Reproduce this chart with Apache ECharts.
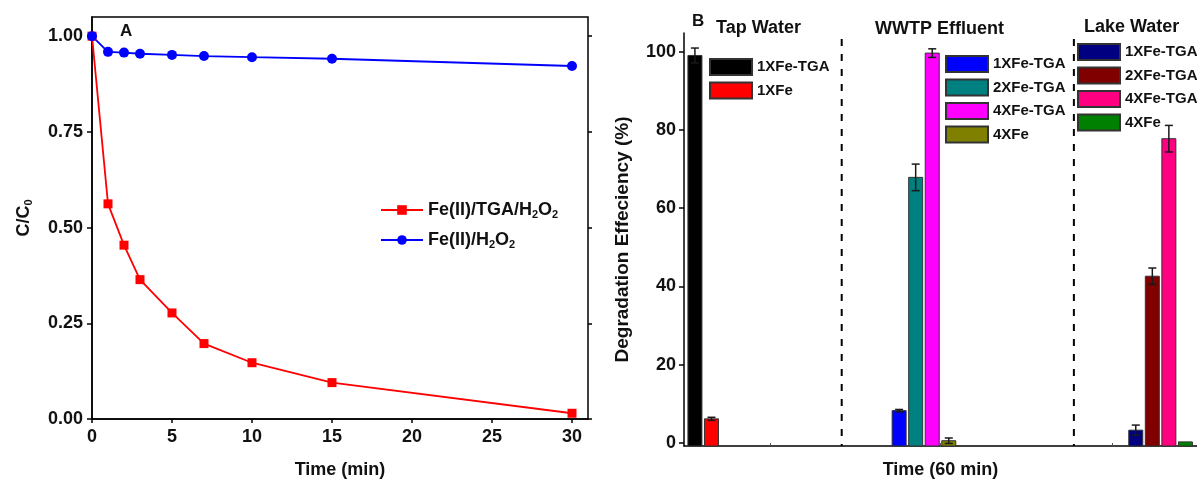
<!DOCTYPE html>
<html>
<head>
<meta charset="utf-8">
<script src="https://cdn.jsdelivr.net/npm/echarts@6/dist/echarts.min.js"></script>
<style>
  html, body { margin: 0; padding: 0; background: #fff; }
  #chart { width: 1197px; height: 484px; }
</style>
</head>
<body>
<div id="chart"></div>
<script>
// ---- panel A : C/C0 against time ----
const times = [0, 1, 2, 3, 5, 7, 10, 15, 30];
const tgaRatio = [1.0, 0.562, 0.454, 0.364, 0.277, 0.197, 0.147, 0.095, 0.015];
const plainRatio = [1.0, 0.959, 0.957, 0.954, 0.951, 0.948, 0.945, 0.941, 0.922];
const ratioTicks = [0, 0.25, 0.5, 0.75, 1.0];
const timeTicks = [0, 5, 10, 15, 20, 25, 30];
const lineNames = ['Fe(II)/TGA/H2O2', 'Fe(II)/H2O2'];

// ---- panel B : degradation efficiency after 60 min ----
const groupTitles = ['Tap Water', 'WWTP Effluent', 'Lake Water'];
const tapNames = ['1XFe-TGA', '1XFe'];
const tapValues = [99.1, 6.1];
const tapErrors = [1.9, 0.4];
const wwtpNames = ['1XFe-TGA', '2XFe-TGA', '4XFe-TGA', '4XFe'];
const wwtpValues = [8.2, 67.9, 99.7, 0.5];
const wwtpErrors = [0.3, 3.4, 1.1, 0.7];
const lakeNames = ['1XFe-TGA', '2XFe-TGA', '4XFe-TGA', '4XFe'];
const lakeValues = [3.2, 42.6, 77.8, 0.2];
const lakeErrors = [1.3, 2.1, 3.4, 0];
const effTicks = [0, 20, 40, 60, 80, 100];

const FONT = '"Liberation Sans", Arial, sans-serif';
const bold = (size) => ({ fontFamily: FONT, fontWeight: 'bold', fontSize: size, color: '#111' });
const sub = { fontFamily: FONT, fontWeight: 'bold', fontSize: 11, color: '#111', padding: [9, 0, 0, 0] };

// bar layout: x axis counted in bar slots; the value axis starts a bit below 0
// and the bars stand on the axis line, as in the original figure
const effMin = -0.85;
const groups = [
  { key: 'tap', names: tapNames, values: tapValues, errors: tapErrors, start: 0.66,
    colors: ['#000000', '#ff0000'], legendLeft: 709, legendTop: 58 },
  { key: 'wwtp', names: wwtpNames, values: wwtpValues, errors: wwtpErrors, start: 13.0,
    colors: ['#0000ff', '#008080', '#ff00ff', '#808000'], legendLeft: 945, legendTop: 55 },
  { key: 'lake', names: lakeNames, values: lakeValues, errors: lakeErrors, start: 27.3,
    colors: ['#000080', '#800000', '#ff0080', '#008000'], legendLeft: 1077, legendTop: 43 }
];
const separators = [9.53, 23.56];
const slotTicks = [5.2, 15.5, 25.85];

const legendSeries = [];
const barData = [];
const errData = [];
const legends = [];
groups.forEach((g, gi) => {
  g.names.forEach((n, i) => {
    const x = g.start + i;
    // empty series only feed the legends
    legendSeries.push({
      type: 'bar',
      name: g.key + ':' + n,
      xAxisIndex: 1,
      yAxisIndex: 2,
      itemStyle: { color: g.colors[i], borderColor: '#333', borderWidth: 1 },
      data: []
    });
    barData.push([x, g.values[i], gi, i]);
    if (g.errors[i] > 0) errData.push([x, g.values[i] - g.errors[i], g.values[i] + g.errors[i]]);
  });
  legends.push({
    orient: 'vertical',
    left: g.legendLeft,
    top: g.legendTop,
    padding: 0,
    itemWidth: 42,
    itemHeight: 16,
    itemGap: 5.5,
    icon: 'rect',
    selectedMode: false,
    data: g.names.map((n) => g.key + ':' + n),
    formatter: (name) => name.split(':')[1],
    textStyle: bold(15)
  });
});

const separatorSeries = separators.map((s) => ({
  type: 'line',
  xAxisIndex: 1, yAxisIndex: 2,
  symbol: 'none',
  silent: true,
  lineStyle: { color: '#000', width: 2, type: [7, 8] },
  data: [[s, 103.3], [s, effMin]]
}));

const chart = echarts.init(document.getElementById('chart'));
chart.setOption({
  animation: false,
  backgroundColor: '#fff',
  grid: [
    { left: 92, right: 609, top: 17, bottom: 63, show: true, borderColor: '#000', borderWidth: 1.5 },
    { left: 684, right: 0, top: 33, bottom: 34 }
  ],
  legend: [{
    orient: 'vertical',
    left: 380,
    top: 200,
    padding: 0,
    itemWidth: 42,
    itemHeight: 12,
    itemGap: 10,
    selectedMode: false,
    data: lineNames,
    formatter: (name) => name.replace(/2/g, '{sub|2}'),
    textStyle: Object.assign(bold(18), { lineHeight: 20, rich: { sub: sub } })
  }].concat(legends),
  xAxis: [
    {
      gridIndex: 0, type: 'value', min: 0, max: 31,
      name: 'Time (min)', nameLocation: 'middle', nameGap: 42, nameTextStyle: bold(18),
      splitLine: { show: false },
      axisLine: { lineStyle: { color: '#000', width: 1.5 } },
      axisTick: { length: 4, customValues: timeTicks, lineStyle: { color: '#000', width: 1.5 } },
      axisLabel: Object.assign(bold(18), { margin: 9, customValues: timeTicks })
    },
    {
      gridIndex: 1, type: 'value', min: 0, max: 31,
      name: 'Time (60 min)', nameLocation: 'middle', nameGap: 15, nameTextStyle: bold(18),
      splitLine: { show: false },
      axisLine: { onZero: false, lineStyle: { color: '#000', width: 1.5 } },
      axisTick: { inside: true, length: 3, customValues: slotTicks, lineStyle: { color: '#555', width: 1 } },
      axisLabel: { show: false }
    }
  ],
  yAxis: [
    {
      gridIndex: 0, type: 'value', min: 0, max: 1.05,
      name: 'C/C{sub|0}', nameLocation: 'middle', nameGap: 58, nameRotate: 90,
      nameTextStyle: Object.assign(bold(18), { rich: { sub: sub } }),
      splitLine: { show: false },
      axisLine: { lineStyle: { color: '#000', width: 1.5 } },
      axisTick: { length: 5, customValues: ratioTicks, lineStyle: { color: '#000', width: 1.5 } },
      axisLabel: Object.assign(bold(18), { margin: 9, customValues: ratioTicks, formatter: (v) => v.toFixed(2) })
    },
    {
      gridIndex: 0, type: 'value', min: 0, max: 1.05, position: 'right',
      splitLine: { show: false },
      axisLine: { show: false },
      axisTick: { length: 4, customValues: ratioTicks, lineStyle: { color: '#000', width: 1.5 } },
      axisLabel: { show: false }
    },
    {
      gridIndex: 1, type: 'value', min: effMin, max: 104.85,
      name: 'Degradation Effeciency (%)', nameLocation: 'middle', nameGap: 52, nameRotate: 90,
      nameTextStyle: bold(19),
      splitLine: { show: false },
      axisLine: { lineStyle: { color: '#000', width: 1.5 } },
      axisTick: { length: 5, customValues: effTicks, lineStyle: { color: '#000', width: 1.5 } },
      axisLabel: Object.assign(bold(18), { margin: 8, customValues: effTicks })
    }
  ],
  graphic: [
    { type: 'text', left: 120, top: 23, style: { text: 'A', font: 'bold 17px ' + FONT, fill: '#111' } },
    { type: 'text', left: 692, top: 13, style: { text: 'B', font: 'bold 17px ' + FONT, fill: '#111' } },
    { type: 'text', left: 716, top: 19, style: { text: groupTitles[0], font: 'bold 18px ' + FONT, fill: '#111' } },
    { type: 'text', left: 875, top: 20, style: { text: groupTitles[1], font: 'bold 18px ' + FONT, fill: '#111' } },
    { type: 'text', left: 1084, top: 18, style: { text: groupTitles[2], font: 'bold 18px ' + FONT, fill: '#111' } }
  ],
  series: [
    {
      type: 'line', name: lineNames[0], xAxisIndex: 0, yAxisIndex: 0,
      symbol: 'rect', symbolSize: 9,
      itemStyle: { color: '#ff0000' }, lineStyle: { color: '#ff0000', width: 1.8 },
      data: times.map((t, i) => [t, tgaRatio[i]])
    },
    {
      type: 'line', name: lineNames[1], xAxisIndex: 0, yAxisIndex: 0,
      symbol: 'circle', symbolSize: 10,
      itemStyle: { color: '#0000ff' }, lineStyle: { color: '#0000ff', width: 1.8 },
      data: times.map((t, i) => [t, plainRatio[i]])
    }
  ].concat(legendSeries, separatorSeries, [
    {
      // bars drawn from the bottom of the value axis
      type: 'custom',
      xAxisIndex: 1, yAxisIndex: 2,
      z: 3,
      data: barData,
      renderItem: (params, api) => {
        const x = api.value(0);
        const top = api.coord([x, api.value(1)]);
        const base = api.coord([x, effMin]);
        const w = 14;
        return {
          type: 'rect',
          shape: { x: top[0] - w / 2, y: top[1], width: w, height: base[1] - top[1] },
          style: { fill: groups[api.value(2)].colors[api.value(3)], stroke: '#333', lineWidth: 1 }
        };
      }
    },
    {
      type: 'custom',
      xAxisIndex: 1, yAxisIndex: 2,
      z: 5,
      data: errData,
      renderItem: (params, api) => {
        const x = api.value(0);
        const lo = api.coord([x, api.value(1)]);
        const hi = api.coord([x, api.value(2)]);
        const cap = 4;
        const st = { stroke: '#1a1a1a', lineWidth: 1.5 };
        return {
          type: 'group',
          children: [
            { type: 'line', shape: { x1: lo[0], y1: lo[1], x2: hi[0], y2: hi[1] }, style: st },
            { type: 'line', shape: { x1: lo[0] - cap, y1: lo[1], x2: lo[0] + cap, y2: lo[1] }, style: st },
            { type: 'line', shape: { x1: hi[0] - cap, y1: hi[1], x2: hi[0] + cap, y2: hi[1] }, style: st }
          ]
        };
      }
    }
  ])
});
</script>
</body>
</html>
